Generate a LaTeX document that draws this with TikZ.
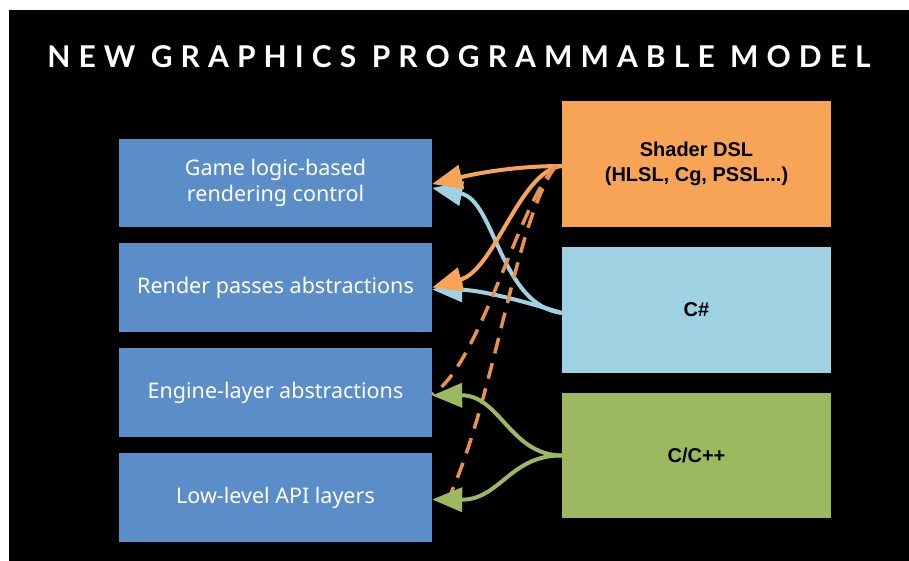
\documentclass[tikz,border=0pt]{standalone}
\usepackage{fontspec}
\setmainfont{Noto Sans}
\newfontfamily\titlefont[LetterSpace=27]{Lato}
\newfontfamily\rfont{Liberation Sans}
\usetikzlibrary{arrows.meta}
\definecolor{boxblue}{HTML}{5B8DC8}
\definecolor{shaderorange}{HTML}{F8A457}
\definecolor{csblue}{HTML}{9ED1E2}
\definecolor{cppgreen}{HTML}{9CB860}
\definecolor{dashorange}{HTML}{E8924E}
\tikzset{
  leftbox/.style={rectangle, fill=boxblue, minimum width=313pt, minimum height=89pt, inner sep=0pt,
    text=white, align=center, font=\fontsize{21.5}{26}\selectfont},
  rightbox/.style={rectangle, minimum width=269pt, minimum height=126pt, inner sep=0pt,
    text=black, align=center, font=\rfont\bfseries\fontsize{20}{24.5}\selectfont},
  conn/.style={line width=4pt, -{Triangle[length=30pt,width=24pt]}},
  dashconn/.style={line width=3.5pt, color=dashorange, dash pattern=on 16pt off 10pt}
}
\begin{document}
\begin{tikzpicture}[x=1pt,y=-1pt]
\useasboundingbox (0,0) rectangle (909,561);
\fill[white] (0,0) rectangle (909,561);
\fill[black] (9,10) rectangle (909,561);

\node[text=white, font=\titlefont\bfseries\fontsize{30}{36}\selectfont] (title) at (459,57) {NEW GRAPHICS PROGRAMMABLE MODEL};

\node[leftbox, minimum height=88pt] (b1) at (275.5,183) {Game logic-based\\rendering control};
\node[leftbox] (b2) at (275.5,287.5) {Render passes abstractions};
\node[leftbox] (b3) at (275.5,392.5) {Engine-layer abstractions};
\node[leftbox] (b4) at (275.5,497.5) {Low-level API layers};

\node[rightbox, fill=shaderorange] (sh) at (696.5,164) {Shader DSL\\(HLSL, Cg, PSSL...)};
\node[rightbox, fill=csblue] (cs) at (696.5,310) {C\#};
\node[rightbox, fill=cppgreen, minimum height=125pt] (cpp) at (696.5,455.5) {C/C++};

% C# arrows
\draw[conn, color=csblue] ([yshift=-3pt]cs.west) .. controls (500,305) and (495,200) .. ([yshift=-5pt]b1.east);
\draw[conn, color=csblue] ([yshift=-3pt]cs.west) .. controls (520,300) and (480,290) .. ([yshift=-2pt]b2.east);

% Shader arrows
\draw[conn, color=shaderorange] ([yshift=-2pt]sh.west) .. controls (510,166) and (470,175) .. ([yshift=-1pt]b1.east);
\draw[conn, color=shaderorange] ([yshift=-2pt]sh.west) .. controls (520,170) and (495,270) .. (b2.east);

% dashed
\draw[dashconn] ([xshift=-6pt,yshift=-2pt]sh.west) .. controls (520,200) and (480,365) .. ([yshift=-2pt]b3.east);
\draw[dashconn] ([xshift=-6pt,yshift=-2pt]sh.west) .. controls (515,220) and (495,400) .. ([xshift=15pt,yshift=-4pt]b4.east);

% C/C++ arrows
\draw[conn, color=cppgreen] (cpp.west) .. controls (510,455) and (500,395) .. ([yshift=-3pt]b3.east);
\draw[conn, color=cppgreen] (cpp.west) .. controls (510,455) and (500,500) .. ([yshift=-2pt]b4.east);
\end{tikzpicture}
\end{document}
